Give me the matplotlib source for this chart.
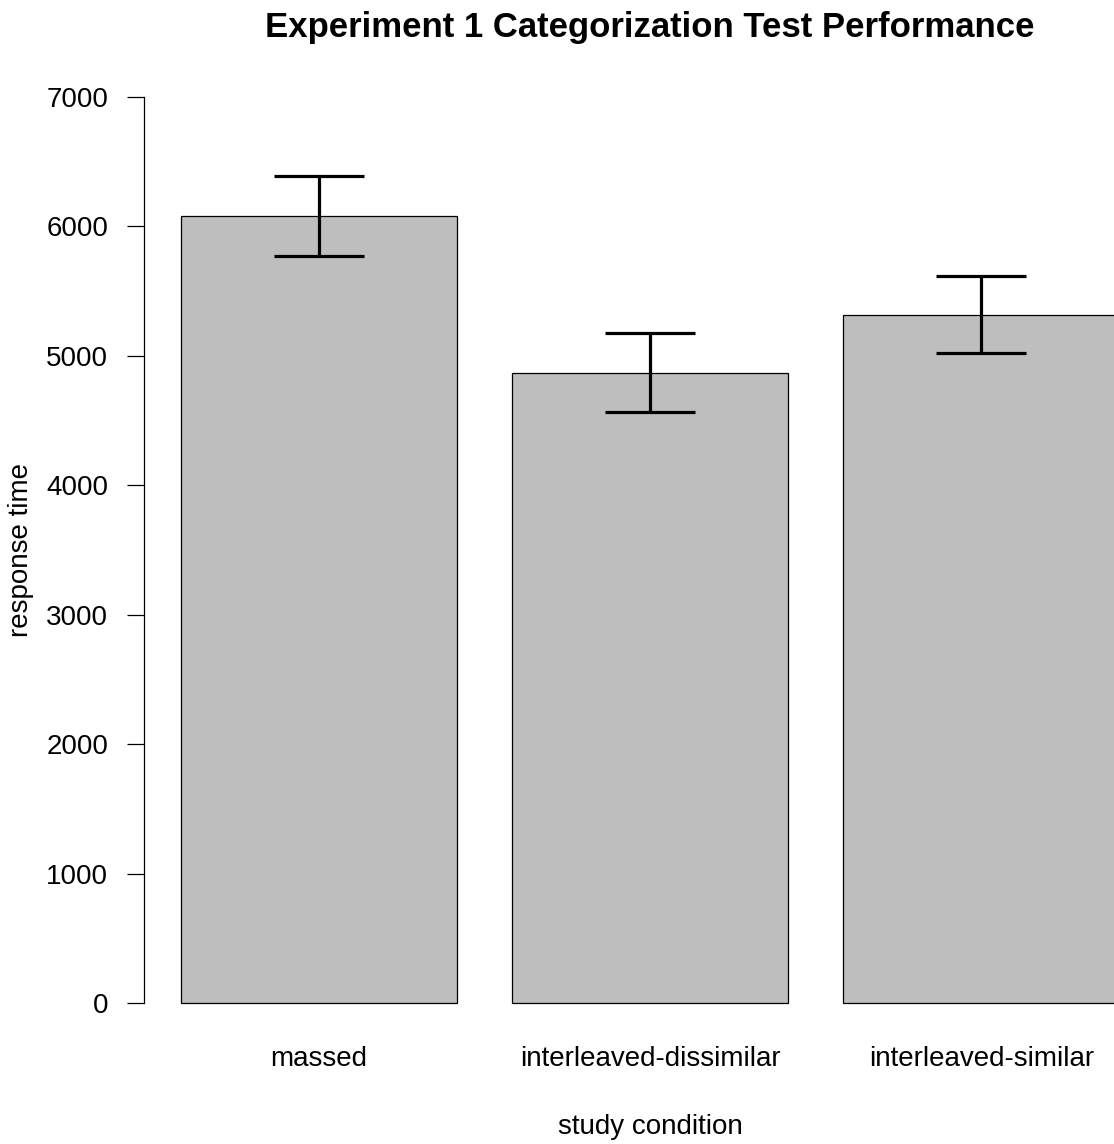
import matplotlib
matplotlib.use("Agg")
import matplotlib.pyplot as plt
import numpy as np

plt.rcParams['font.family'] = ['Liberation Sans', 'DejaVu Sans']

# Mean categorization response times and standard errors per study condition
conditions = ["massed", "interleaved-dissimilar", "interleaved-similar"]
mean_rt = [6077, 4870, 5316]
se_rt = [310, 306, 296]
y_ticks = [0, 1000, 2000, 3000, 4000, 5000, 6000, 7000]

W, H = 1114, 1144
fig = plt.figure(figsize=(W / 100, H / 100), dpi=100)

# plot region (pixel geometry of an R-style barplot: width 1, space 0.2)
left_px, right_px = 143.5, 1157.0
top_px, bottom_px = 60.4, 1039.5
ax = fig.add_axes([left_px / W, 1 - bottom_px / H,
                   (right_px - left_px) / W, (bottom_px - top_px) / H])

x = 0.2 + 1.2 * np.arange(len(conditions)) + 0.5
ax.bar(x, mean_rt, width=1.0, color="#BEBEBE", edgecolor="black",
       linewidth=0.9, zorder=1)
ax.errorbar(x, mean_rt, yerr=se_rt, fmt="none", ecolor="black",
            elinewidth=2.3, capsize=32.5, capthick=2.3, zorder=2)

ax.set_xlim(0.2 - 0.04 * 3.4, 3.6 + 0.04 * 3.4)
ax.set_ylim(-280, 7280)

for s in ["top", "right", "bottom"]:
    ax.spines[s].set_visible(False)
ax.spines["left"].set_bounds(0, 7000)
ax.spines["left"].set_linewidth(0.9)

ax.set_yticks(y_ticks)
ax.set_yticklabels([str(v) for v in y_ticks], fontsize=20)
ax.tick_params(axis="y", length=12.5, width=0.9, pad=13)

ax.set_xticks(x)
ax.set_xticklabels(conditions, fontsize=20)
ax.tick_params(axis="x", length=0, pad=5)

fig.text(650 / W, 1 - 36.7 / H, "Experiment 1 Categorization Test Performance",
         ha="center", va="baseline", fontsize=25, fontweight="bold")
fig.text(650 / W, 1 - 1134 / H, "study condition",
         ha="center", va="baseline", fontsize=20)
fig.text(21 / W, 1 - 550 / H, "response time", rotation=90,
         ha="center", va="center", fontsize=20)

fig.savefig("out.png", dpi=100)
